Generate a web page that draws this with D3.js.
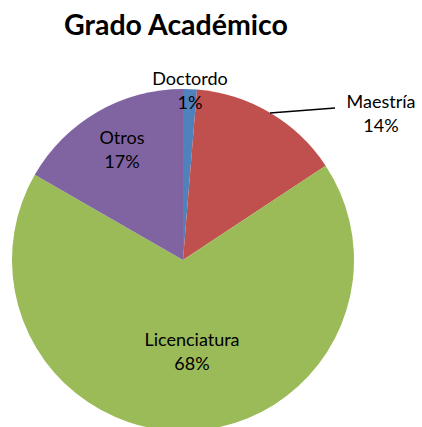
<!DOCTYPE html>
<html>
<head>
<meta charset="utf-8">
<script src="https://cdn.jsdelivr.net/npm/d3@7"></script>
<style>
  body { margin: 0; background: #fff; }
  svg text { font-family: Lato, "Open Sans", sans-serif; }
</style>
</head>
<body>
<svg id="chart" width="422" height="427"></svg>
<script>
// data (percent of total)
const categories = ['Doctordo', 'Maestría', 'Licenciatura', 'Otros'];
const values = [1.3, 14.4, 67.6, 16.7];
const colors = ['#4F81BD', '#C0504D', '#9BBB59', '#8064A2'];

const svg = d3.select('#chart');
const cx = 183, cy = 260, r = 171;

svg.append('text')
  .attr('x', 176)
  .attr('y', 35)
  .attr('text-anchor', 'middle')
  .attr('font-size', '28.5px')
  .attr('font-weight', 'bold')
  .text('Grado Académico');

const data = categories.map((c, i) => ({ name: c, value: values[i], color: colors[i] }));
const total = d3.sum(values);

const pie = d3.pie().sort(null).value(d => d.value);
const arc = d3.arc().innerRadius(0).outerRadius(r);
const arcs = pie(data);

const g = svg.append('g').attr('transform', `translate(${cx},${cy})`);

g.selectAll('path')
  .data(arcs)
  .join('path')
  .attr('d', arc)
  .attr('fill', d => d.data.color);

// label positions relative to the centre (Excel-style placement)
const labelPos = {
  'Doctordo': [7, -175],
  'Maestría': [198, -152],
  'Licenciatura': [9, 86],
  'Otros': [-61, -116]
};

// leader line for Maestría
g.append('path')
  .attr('d', d3.line()([[87, -147], [152, -152]]))
  .attr('fill', 'none')
  .attr('stroke', '#000')
  .attr('stroke-width', 1.5);

arcs.forEach(a => {
  const [x, y] = labelPos[a.data.name];
  const t = g.append('text')
    .attr('x', x)
    .attr('y', y)
    .attr('text-anchor', 'middle')
    .attr('font-size', '18px')
    .attr('fill', '#000');
  t.append('tspan').attr('x', x).text(a.data.name);
  t.append('tspan').attr('x', x).attr('dy', '1.35em')
    .text(Math.round(a.data.value / total * 100) + '%');
});
</script>
</body>
</html>
